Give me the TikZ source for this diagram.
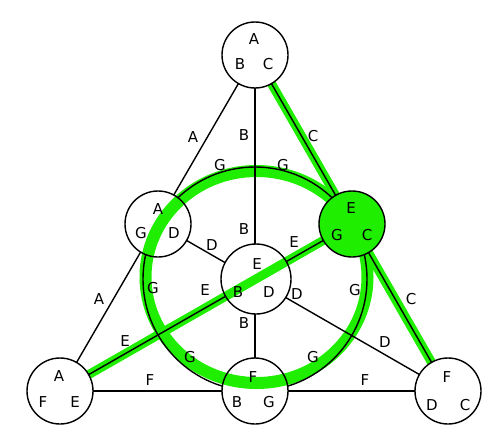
\documentclass[tikz,border=0pt]{standalone}
\usepackage{fontspec}
\setmainfont{DejaVu Sans}
\definecolor{hl}{RGB}{32,238,0}
\begin{document}
\begin{tikzpicture}[x=1pt,y=-1pt,
  vert/.style={circle,minimum size=66pt,inner sep=0pt},
  bigvert/.style={circle,minimum size=70pt,inner sep=0pt},
  lab/.style={font=\fontsize{15}{15}\selectfont,inner sep=0pt},
  edge/.style={line width=1.4pt,black},
  glow/.style={hl,line width=9pt},
  ringglow/.style={hl,line width=12pt}]
\useasboundingbox (0,0) rectangle (502,444);
% named vertices (shapes)
\node[vert] (T) at (255,55) {};
\node[vert] (LM) at (158,224) {};
\node[vert] (RM) at (352,224) {};
\node[bigvert] (C) at (256,279) {};
\node[vert] (BL) at (60,391) {};
\node[vert] (BM) at (255,391) {};
\node[vert] (BR) at (448,391) {};
% green highlights
\draw[ringglow] (256.5,277) ellipse [x radius=111pt, y radius=106pt];
\draw[glow] (T) -- (BR);
\draw[glow] (BL) -- (RM);
% black lines
\draw[edge] (T) -- (BL);
\draw[edge] (T) -- (BR);
\draw[edge] (T) -- (BM);
\draw[edge] (BL) -- (BR);
\draw[edge] (LM) -- (BR);
\draw[edge] (BL) -- (RM);
\draw[edge] (255,279) circle [radius=112pt];
% node fills
\foreach \n in {T,LM,BL,BM,BR} \fill[white] (\n.center) circle [radius=33pt];
\fill[white] (C.center) circle [radius=35pt];
\fill[hl] (RM.center) circle [radius=33pt];
% green inside nodes
\begin{scope}
\clip (C.center) circle [radius=35pt] (LM.center) circle [radius=33pt] (BM.center) circle [radius=33pt];
\draw[ringglow] (256.5,277) ellipse [x radius=111pt, y radius=106pt];
\draw[glow] (BL) -- (RM);
\end{scope}
% node borders
\foreach \n in {T,LM,RM,BL,BM,BR} \draw[edge] (\n.center) circle [radius=33pt];
\draw[edge] (C.center) circle [radius=35pt];
% node letters
\node[lab] (Ta) at ([shift={(-1,-16)}]T.center) {A};
\node[lab] (Tb) at ([shift={(-15,9)}]T.center) {B};
\node[lab] (Tc) at ([shift={(13,9)}]T.center) {C};
\node[lab] (La) at ([shift={(0,-15)}]LM.center) {A};
\node[lab] (Lg) at ([shift={(-17,9)}]LM.center) {G};
\node[lab] (Ld) at ([shift={(16,9)}]LM.center) {D};
\node[lab] (Ra) at ([shift={(-1,-16)}]RM.center) {E};
\node[lab] (Rg) at ([shift={(-15,11)}]RM.center) {G};
\node[lab] (Rc) at ([shift={(15,11)}]RM.center) {C};
\node[lab] (Ce) at ([shift={(1,-15)}]C.center) {E};
\node[lab] (Cb) at ([shift={(-18,13)}]C.center) {B};
\node[lab] (Cd) at ([shift={(13,13)}]C.center) {D};
\node[lab] (BLa) at ([shift={(-1,-15)}]BL.center) {A};
\node[lab] (BLf) at ([shift={(-17,11)}]BL.center) {F};
\node[lab] (BLe) at ([shift={(15,11)}]BL.center) {E};
\node[lab] (BMf) at ([shift={(-2,-14)}]BM.center) {F};
\node[lab] (BMb) at ([shift={(-18,11)}]BM.center) {B};
\node[lab] (BMg) at ([shift={(14,11)}]BM.center) {G};
\node[lab] (BRf) at ([shift={(-1,-14)}]BR.center) {F};
\node[lab] (BRd) at ([shift={(-16,14)}]BR.center) {D};
\node[lab] (BRc) at ([shift={(17,14)}]BR.center) {C};
% edge labels
\node[lab] (eA1) at (193,137) {A};
\node[lab] (eA2) at (99,299) {A};
\node[lab] (eB1) at (244,135) {B};
\node[lab] (eB2) at (244,229) {B};
\node[lab] (eB3) at (244,323) {B};
\node[lab] (eC1) at (313,136) {C};
\node[lab] (eC2) at (411,299) {C};
\node[lab] (eD1) at (212,245) {D};
\node[lab] (eD2) at (297,294) {D};
\node[lab] (eD3) at (385,342) {D};
\node[lab] (eE1) at (294,242) {E};
\node[lab] (eE2) at (205,290) {E};
\node[lab] (eE3) at (125,341) {E};
\node[lab] (eF1) at (150,380) {F};
\node[lab] (eF2) at (365,380) {F};
\node[lab] (eG1) at (220,165) {G};
\node[lab] (eG2) at (283,165) {G};
\node[lab] (eG3) at (153,288) {G};
\node[lab] (eG4) at (355,290) {G};
\node[lab] (eG5) at (190,357) {G};
\node[lab] (eG6) at (313,357) {G};
\end{tikzpicture}
\end{document}
